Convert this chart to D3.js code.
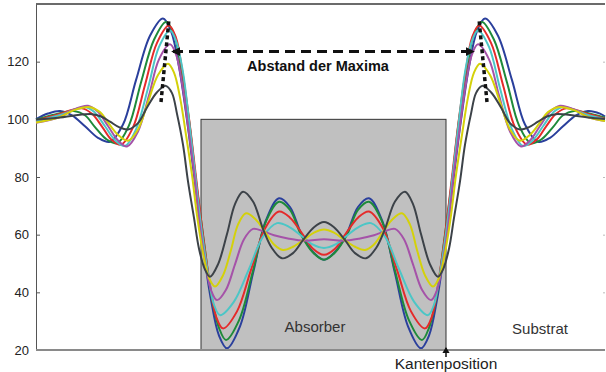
<!DOCTYPE html>
<html>
<head>
<meta charset="utf-8">
<script src="https://cdn.jsdelivr.net/npm/d3@7"></script>
<style>
  body { margin: 0; background: #fff; }
  svg { display: block; font-family: "Liberation Sans", Arial, sans-serif; }
</style>
</head>
<body>
<svg id="chart" width="606" height="372"></svg>
<script>
// position across the sample (arbitrary units, 0 = middle of the absorber)
const xDomain = [-288, 281];
const yDomain = [20, 140];
const yTicks = [20, 40, 60, 80, 100, 120];
const absorber = [-123, 122];
const absorberTop = 100;

// intensity profiles as [position, value]
const blue = [[-288,100.1],[-276,102.0],[-264,102.9],[-252,101.4],[-239,97.6],[-226,93.6],[-214,92.2],[-201,98.2],[-188,113.6],[-174,129.0],[-161,135.0],[-153,130.6],[-145,118.2],[-137,99.7],[-129,77.8],[-121,55.9],[-113,37.4],[-105,25.0],[-97,20.6],[-84,28.2],[-71,46.6],[-58,65.0],[-45,72.6],[-34,69.6],[-23,60.5],[-11,54.0],[0,51.3],
  [11,54.0],[23,60.5],[34,69.6],[45,72.6],[58,65.0],[71,46.6],[84,28.2],[97,20.6],[105,25.0],[113,37.4],[121,55.9],[129,77.8],[137,99.7],[145,118.2],[153,130.6],[161,135.0],[174,129.0],[188,113.6],[201,98.2],[214,92.2],[226,93.6],[239,97.6],[252,101.4],[264,102.9],[276,102.0],[281,101.0]];
const green = [[-288,99.9],[-269,101.7],[-250,102.9],[-239,101.4],[-229,97.3],[-218,93.2],[-207,91.7],[-195,97.9],[-183,112.8],[-170,127.6],[-158,133.8],[-150,129.6],[-143,117.6],[-135,99.8],[-128,78.7],[-120,57.5],[-113,39.7],[-105,27.7],[-98,23.5],[-85,30.3],[-71,47.5],[-58,64.6],[-45,71.4],[-34,68.6],[-23,60.0],[-11,53.8],[0,51.3],
  [11,53.8],[23,60.0],[34,68.6],[45,71.4],[58,64.6],[71,47.5],[85,30.3],[98,23.5],[105,27.7],[113,39.7],[120,57.5],[128,78.7],[135,99.8],[143,117.6],[150,129.6],[158,133.8],[170,127.6],[183,112.8],[195,97.9],[207,91.7],[218,93.2],[229,97.3],[239,101.4],[250,102.9],[269,101.7],[281,100.6]];
const red = [[-288,99.5],[-266,101.7],[-242,103.8],[-232,101.9],[-222,97.5],[-213,93.1],[-203,91.2],[-191,97.2],[-179,111.9],[-167,126.5],[-155,132.5],[-148,128.3],[-142,117.3],[-135,100.3],[-128,80.0],[-121,59.7],[-114,42.7],[-108,31.7],[-101,27.5],[-87,33.4],[-73,47.8],[-59,62.1],[-45,68.0],[-34,65.9],[-22,60.5],[-11,55.1],[0,53.0],
  [11,55.1],[22,60.5],[34,65.9],[45,68.0],[59,62.1],[73,47.8],[87,33.4],[101,27.5],[108,31.7],[114,42.7],[121,59.7],[128,80.0],[135,100.3],[142,117.3],[148,128.3],[155,132.5],[167,126.5],[179,111.9],[191,97.2],[203,91.2],[213,93.1],[222,97.5],[232,101.9],[242,103.8],[266,101.7],[281,100.2]];
const cyan = [[-288,99.3],[-264,101.5],[-239,104.3],[-229,102.3],[-219,97.6],[-209,92.8],[-199,90.8],[-188,96.5],[-176,110.8],[-165,125.1],[-154,130.8],[-148,127.2],[-141,116.3],[-135,99.6],[-129,81.5],[-123,63.2],[-116,46.6],[-110,35.7],[-104,32.1],[-90,36.8],[-75,48.1],[-61,59.3],[-47,64.0],[-35,62.7],[-23,59.7],[-12,56.7],[0,55.4],
  [12,56.7],[23,59.7],[35,62.7],[47,64.0],[61,59.3],[75,48.1],[90,36.8],[104,32.1],[110,35.7],[116,46.6],[123,63.2],[129,81.5],[135,99.6],[141,116.3],[148,127.2],[154,130.8],[165,125.1],[176,110.8],[188,96.5],[199,90.8],[209,92.8],[219,97.6],[229,102.3],[239,104.3],[264,101.5],[281,100.0]];
const magenta = [[-288,98.8],[-264,100.8],[-251,103.3],[-236,104.7],[-226,102.6],[-216,97.7],[-206,92.7],[-197,90.6],[-186,95.8],[-175,108.3],[-165,120.8],[-154,126.0],[-148,122.5],[-142,112.5],[-136,97.7],[-130,81.7],[-125,65.6],[-119,50.8],[-113,40.8],[-107,37.3],[-98,40.9],[-89,49.7],[-80,58.4],[-71,62.0],[-61,61.2],[-50,59.8],[-35,58.6],[-19,57.9],[0,58.4],
  [19,57.9],[35,58.6],[50,59.8],[61,61.2],[71,62.0],[80,58.4],[89,49.7],[98,40.9],[107,37.3],[113,40.8],[119,50.8],[125,65.6],[130,81.7],[136,97.7],[142,112.5],[148,122.5],[154,126.0],[165,120.8],[175,108.3],[186,95.8],[197,90.6],[206,92.7],[216,97.7],[226,102.6],[236,104.7],[251,103.3],[264,100.8],[281,99.4]];
const yellow = [[-288,98.9],[-264,100.8],[-250,103.2],[-234,104.2],[-224,102.5],[-215,98.4],[-205,94.3],[-196,92.6],[-186,96.5],[-176,106.0],[-166,115.4],[-156,119.3],[-150,116.2],[-144,107.6],[-138,94.6],[-132,80.7],[-127,66.7],[-121,53.7],[-115,45.0],[-109,42.0],[-101,45.9],[-93,54.7],[-86,63.5],[-78,67.4],[-69,65.5],[-59,61.0],[-50,56.6],[-41,54.7],[-31,55.8],[-20,58.3],[-10,60.7],[0,61.8],
  [10,60.7],[20,58.3],[31,55.8],[41,54.7],[50,56.6],[59,61.0],[69,65.5],[78,67.4],[86,63.5],[93,54.7],[101,45.9],[109,42.0],[115,45.0],[121,53.7],[127,66.7],[132,80.7],[138,94.6],[144,107.6],[150,116.2],[156,119.3],[166,115.4],[176,106.0],[186,96.5],[196,92.6],[205,94.3],[215,98.4],[224,102.5],[234,104.2],[250,103.2],[264,100.8],[281,99.4]];
const gray = [[-288,99.9],[-264,100.6],[-250,101.3],[-232,101.8],[-223,101.0],[-214,99.2],[-205,97.3],[-196,96.5],[-186,98.7],[-177,104.1],[-167,109.4],[-158,111.6],[-152,109.1],[-147,101.9],[-141,91.2],[-136,78.5],[-130,65.8],[-125,55.1],[-119,47.9],[-114,45.4],[-106,49.7],[-97,60.2],[-89,70.6],[-81,74.9],[-71,71.5],[-61,62.0],[-52,55.3],[-42,51.8],[-31,53.6],[-21,58.1],[-10,62.6],[0,64.4],
  [10,62.6],[21,58.1],[31,53.6],[42,51.8],[52,55.3],[61,62.0],[71,71.5],[81,74.9],[89,70.6],[97,60.2],[106,49.7],[114,45.4],[119,47.9],[125,55.1],[130,65.8],[136,78.5],[141,91.2],[147,101.9],[152,109.1],[158,111.6],[167,109.4],[177,104.1],[186,98.7],[196,96.5],[205,97.3],[214,99.2],[223,101.0],[232,101.8],[250,101.3],[264,100.6],[281,100.1]];

const series = [blue, green, red, cyan, magenta, yellow, gray];
const colors = ["#2a3f9c", "#1e8a3a", "#e52a2a", "#4cc6c6", "#a552a8", "#d4d10a", "#3c4248"];

// annotations
const guideLeft = [[-163, 106], [-155, 134.8]];
const guideRight = [[163, 106], [155, 134.8]];
const spacingArrow = [[-151, 123.5], [149, 123.5]];

const svg = d3.select("#chart");
const x = d3.scaleLinear().domain(xDomain).range([36, 605]);
const y = d3.scaleLinear().domain(yDomain).range([350, 4]);

const defs = svg.append("defs");
defs.append("marker")
  .attr("id", "head")
  .attr("viewBox", "0 0 10 10")
  .attr("refX", 8).attr("refY", 5)
  .attr("markerUnits", "userSpaceOnUse")
  .attr("markerWidth", 9).attr("markerHeight", 9)
  .attr("orient", "auto-start-reverse")
  .append("path")
  .attr("d", "M0,0 L10,5 L0,10 z")
  .attr("fill", "#111");

// absorber block
svg.append("rect")
  .attr("x", x(absorber[0]))
  .attr("y", y(absorberTop))
  .attr("width", x(absorber[1]) - x(absorber[0]))
  .attr("height", y(yDomain[0]) - y(absorberTop))
  .attr("fill", "#c0c0c0")
  .attr("stroke", "#333")
  .attr("stroke-width", 1);

// frame
svg.append("line")
  .attr("x1", 36).attr("x2", 605).attr("y1", 4).attr("y2", 4)
  .attr("stroke", "#3a3a3a").attr("stroke-width", 1.5);

const yAxis = svg.append("g")
  .attr("transform", "translate(36,0)")
  .call(d3.axisLeft(y).tickValues(yTicks).tickSizeInner(-4).tickSizeOuter(0).tickPadding(7));
yAxis.select(".domain").attr("stroke", "#555");
yAxis.selectAll(".tick line").attr("stroke", "#555");
yAxis.selectAll("text").attr("font-size", 13).attr("fill", "#222")
  .attr("font-family", "Liberation Sans, Arial, sans-serif");

const yRight = svg.append("g")
  .attr("transform", "translate(605,0)")
  .call(d3.axisRight(y).tickValues(yTicks.slice(1)).tickSizeInner(-2).tickSizeOuter(0).tickFormat(""));
yRight.select(".domain").remove();
yRight.selectAll(".tick line").attr("stroke", "#bbb");

// curves
const line = d3.line()
  .x(d => x(d[0]))
  .y(d => y(d[1]))
  .curve(d3.curveCatmullRom.alpha(0.5));

svg.selectAll(".profile")
  .data(series)
  .enter()
  .append("path")
  .attr("class", "profile")
  .attr("d", line)
  .attr("fill", "none")
  .attr("stroke", (d, i) => colors[i])
  .attr("stroke-width", 2);

// bottom axis line
svg.append("line")
  .attr("x1", 36).attr("x2", 605).attr("y1", y(20)).attr("y2", y(20))
  .attr("stroke", "#8a8a8a").attr("stroke-width", 2);

// peak guides and spacing arrow
const plain = d3.line().x(d => x(d[0])).y(d => y(d[1]));
[guideLeft, guideRight].forEach(g => {
  svg.append("path")
    .attr("d", plain(g))
    .attr("stroke", "#111").attr("stroke-width", 3.5)
    .attr("stroke-dasharray", "4,3").attr("fill", "none");
});
svg.append("path")
  .attr("d", plain(spacingArrow))
  .attr("stroke", "#111").attr("stroke-width", 3)
  .attr("stroke-dasharray", "10,6").attr("fill", "none")
  .attr("marker-start", "url(#head)")
  .attr("marker-end", "url(#head)");

svg.append("text")
  .attr("x", x(-6)).attr("y", 71)
  .attr("text-anchor", "middle")
  .attr("font-size", 14.5).attr("font-weight", "bold").attr("fill", "#111")
  .text("Abstand der Maxima");

// region labels
svg.append("text")
  .attr("x", x(-9)).attr("y", y(26.2))
  .attr("text-anchor", "middle").attr("font-size", 15).attr("fill", "#333")
  .text("Absorber");
svg.append("text")
  .attr("x", x(216)).attr("y", y(25.5))
  .attr("text-anchor", "middle").attr("font-size", 15).attr("fill", "#333")
  .text("Substrat");

// edge marker
svg.append("line")
  .attr("x1", x(absorber[1])).attr("x2", x(absorber[1]))
  .attr("y1", 357).attr("y2", 348)
  .attr("stroke", "#111").attr("stroke-width", 1.5);
svg.append("path")
  .attr("d", d3.symbol(d3.symbolTriangle, 22)())
  .attr("transform", "translate(" + x(absorber[1]) + ",351)")
  .attr("fill", "#111");
svg.append("text")
  .attr("x", x(absorber[1])).attr("y", 369)
  .attr("text-anchor", "middle").attr("font-size", 15.5).attr("fill", "#222")
  .text("Kantenposition");
</script>
</body>
</html>
